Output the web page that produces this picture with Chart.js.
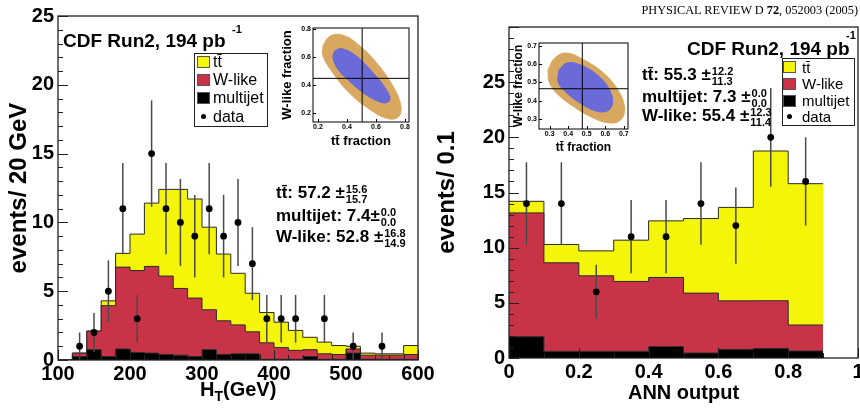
<!DOCTYPE html>
<html><head><meta charset="utf-8">
<script src="https://cdn.jsdelivr.net/npm/chart.js@4.4.0/dist/chart.umd.min.js"></script>
<style>
html,body{margin:0;padding:0;background:#fff;overflow:hidden;width:860px;height:412px;}
body{position:relative;font-family:'Liberation Sans',Arial,Helvetica,sans-serif;color:#000;}
.a{position:absolute;white-space:nowrap;line-height:1;}
.b{font-weight:bold;}
.pm{display:inline-block;vertical-align:-5px;font-size:11px;line-height:10px;margin-left:1px;text-align:left;}
.sw{position:absolute;width:13px;height:12px;border:1px solid #555;box-sizing:border-box;}
.dot{position:absolute;width:5px;height:5px;border-radius:50%;background:#000;}
canvas{display:block;}
</style>
</head><body>
<div class="a" style="left:0;top:0"><canvas id="cL" width="440" height="412"></canvas></div>
<div class="a" style="left:430px;top:0"><canvas id="cR" width="450" height="412"></canvas></div>
<div class="a" style="left:276px;top:21px"><canvas id="iL" width="140" height="132"></canvas></div>
<div class="a" style="left:505px;top:36px"><canvas id="iR" width="129" height="122"></canvas></div>

<div class="a" style="right:2px;top:4px;font-family:'Liberation Serif','Times New Roman',serif;font-size:12.3px;">PHYSICAL REVIEW D <b>72</b>, 052003 (2005)</div>

<!-- left panel texts -->
<div class="a b" style="left:63px;top:31px;font-size:19px;">CDF Run2, 194 pb</div>
<div class="a b" style="left:232px;top:24px;font-size:11px;">-1</div>
<div class="a" style="left:194px;top:53px;width:74px;height:74px;border:1px solid #222;box-sizing:border-box;"></div>
<div class="sw" style="left:197px;top:56px;background:#f5f50a"></div>
<div class="sw" style="left:197px;top:74px;background:#c93347"></div>
<div class="sw" style="left:197px;top:92px;background:#000"></div>
<div class="dot" style="left:201px;top:114px"></div>
<div class="a" style="left:213px;top:54px;font-size:16px;">tt&#772;</div>
<div class="a" style="left:213px;top:72px;font-size:16px;">W-like</div>
<div class="a" style="left:213px;top:90px;font-size:16px;">multijet</div>
<div class="a" style="left:213px;top:109px;font-size:16px;">data</div>
<div class="a b" style="left:276px;top:184px;font-size:17px;">tt&#772;: 57.2 &#177;<span class="pm">15.6<br>15.7</span></div>
<div class="a b" style="left:276px;top:207px;font-size:17px;">multijet: 7.4&#177;<span class="pm">0.0<br>0.0</span></div>
<div class="a b" style="left:276px;top:228px;font-size:17px;">W-like: 52.8 &#177;<span class="pm">16.8<br>14.9</span></div>
<div class="a b" style="left:200px;top:379px;font-size:20px;">H<span style="font-size:14px;position:relative;top:5px;">T</span>(GeV)</div>

<!-- right panel texts -->
<div class="a b" style="left:687px;top:39px;font-size:19px;">CDF Run2, 194 pb</div>
<div class="a b" style="left:846px;top:30px;font-size:11px;">-1</div>
<div class="a" style="left:782px;top:58px;width:73px;height:68px;border:1px solid #222;box-sizing:border-box;"></div>
<div class="sw" style="left:783px;top:61px;background:#f5f50a"></div>
<div class="sw" style="left:783px;top:78px;background:#c93347"></div>
<div class="sw" style="left:783px;top:95px;background:#000"></div>
<div class="dot" style="left:787px;top:114px"></div>
<div class="a" style="left:802px;top:60px;font-size:15px;">tt&#772;</div>
<div class="a" style="left:802px;top:76px;font-size:15px;">W-like</div>
<div class="a" style="left:802px;top:93px;font-size:15px;">multijet</div>
<div class="a" style="left:802px;top:109px;font-size:15px;">data</div>
<div class="a b" style="left:642px;top:66px;font-size:17px;">tt&#772;: 55.3 &#177;<span class="pm">12.2<br>11.3</span></div>
<div class="a b" style="left:642px;top:88px;font-size:17px;">multijet: 7.3 &#177;<span class="pm">0.0<br>0.0</span></div>
<div class="a b" style="left:642px;top:107px;font-size:17px;">W-like: 55.4 &#177;<span class="pm">12.3<br>11.4</span></div>

<script>
// ---------- data: left panel (H_T) ----------
const htEdges = [100,120,140,160,180,200,220,240,260,280,300,320,340,360,380,400,420,440,460,480,500,520,540,560,580,600];
const htMultijet = [0,0.25,0.75,0.25,0.8,0.55,0.5,0.4,0.35,0.25,0.75,0.4,0.45,0.45,0.05,0.05,0.05,0.25,0.05,0.05,0.5,0.05,0.05,0.05,0.05];
const htWlike = [0,0.25,1.35,3.7,5.95,5.95,6.3,5.7,4.85,4.25,2.9,2.45,2.1,1.6,1.2,0.85,0.65,0.5,0.4,0.35,0.3,0.3,0.3,0.3,0.35];
const htTtbar = [0,0,0,0.35,1.0,2.65,4.6,6.3,7.2,7.2,6.0,4.85,3.75,2.8,2.2,1.85,1.45,0.9,0.85,0.65,0.2,0.15,0.1,0.1,0.65];
const htDataX = [130,150,170,190,210,230,250,270,290,310,330,350,370,390,410,430,470,510,550];
const htDataY = [1,2,5,11,3,15,11,10,9,11,9,10,7,3,3,3,3,1,1];
const htDataErr = [1,1.41,2.24,3.32,1.73,3.87,3.32,3.16,3,3.32,3,3.16,2.65,1.73,1.73,1.73,1.73,1,1];

// ---------- data: right panel (ANN output) ----------
const annEdges = [0,0.1,0.2,0.3,0.4,0.5,0.6,0.7,0.8,0.9];
const annMultijet = [1.93,0.6,0.6,0.6,1.03,0.45,0.78,0.87,0.63];
const annWlike = [11.22,8.03,6.85,6.34,6.27,5.43,4.4,4.32,2.36];
const annTtbar = [1.05,1.66,2.26,3.74,5.13,6.76,8.47,13.57,12.81];
const annDataX = [0.05,0.15,0.25,0.35,0.45,0.55,0.65,0.75,0.85];
const annDataY = [14,14,6,11,11,14,12,20,16];
const annDataErr = [3.74,3.74,2.45,3.32,3.32,3.74,3.46,4.47,4];

// ---------- data: insets (contours of the fit, tt fraction vs W-like fraction) ----------
const insLOuter = [[0.235,0.679],[0.281,0.747],[0.373,0.756],[0.489,0.679],[0.604,0.558],[0.719,0.388],[0.772,0.25],[0.754,0.17],[0.68,0.16],[0.558,0.225],[0.419,0.340],[0.304,0.485],[0.235,0.606],[0.235,0.679]];
const insLInner = [[0.315,0.643],[0.362,0.66],[0.466,0.606],[0.581,0.485],[0.673,0.364],[0.696,0.292],[0.650,0.272],[0.535,0.328],[0.419,0.425],[0.339,0.51],[0.304,0.594],[0.315,0.643]];
const insLBest = [0.505, 0.447];
const insROuter = [[0.291,0.569],[0.327,0.633],[0.391,0.660],[0.482,0.624],[0.591,0.551],[0.673,0.451],[0.704,0.360],[0.685,0.296],[0.627,0.278],[0.536,0.305],[0.427,0.369],[0.336,0.442],[0.296,0.505],[0.291,0.569]];
const insRInner = [[0.351,0.569],[0.391,0.605],[0.464,0.596],[0.555,0.542],[0.618,0.469],[0.640,0.396],[0.618,0.347],[0.555,0.342],[0.464,0.387],[0.382,0.451],[0.345,0.505],[0.351,0.569]];
const insRBest = [0.476, 0.465];

const C_YEL = '#f5f50a', C_RED = '#c93347', C_BLK = '#000000', C_TAN = '#d8a860', C_BLUE = '#6a6ad8';
const FONT = "'Liberation Sans', Arial, Helvetica, sans-serif";

// ticks drawn inside frame + frame box
const inTicks = {
  id: 'inTicks',
  afterDatasetsDraw(chart, args, o) {
    if (!o || !o.x) return;
    const {ctx, chartArea: a} = chart;
    const xs = chart.scales.x, ys = chart.scales.y;
    ctx.save();
    ctx.strokeStyle = o.color || '#222';
    ctx.lineWidth = 1;
    const marks = (sc, spec, horiz) => {
      const k0 = Math.ceil(sc.min / spec.minor - 1e-6), k1 = Math.floor(sc.max / spec.minor + 1e-6);
      for (let k = k0; k <= k1; k++) {
        const v = k * spec.minor, r = v / spec.major;
        const L = Math.abs(r - Math.round(r)) < 1e-6 ? spec.len : spec.minorLen;
        const p = Math.round(sc.getPixelForValue(v)) + 0.5;
        ctx.beginPath();
        if (horiz) { ctx.moveTo(p, a.bottom); ctx.lineTo(p, a.bottom - L); }
        else { ctx.moveTo(a.left, p); ctx.lineTo(a.left + L, p); }
        ctx.stroke();
      }
    };
    marks(xs, o.x, true); marks(ys, o.y, false);
    ctx.lineWidth = o.frameWidth || 1.5;
    ctx.strokeStyle = o.frameColor || '#222';
    ctx.strokeRect(a.left, a.top, a.right - a.left, a.bottom - a.top);
    ctx.restore();
  }
};
// vertical error bars, drawn just before the data markers
const errBars = {
  id: 'errBars',
  beforeDatasetDraw(chart, args) {
    const ds = chart.data.datasets[args.index];
    if (!ds.errors) return;
    const {ctx, chartArea: a} = chart;
    const xs = chart.scales.x, ys = chart.scales.y;
    ctx.save();
    ctx.beginPath(); ctx.rect(a.left, a.top, a.right - a.left, a.bottom - a.top); ctx.clip();
    ctx.strokeStyle = ds.errColor; ctx.lineWidth = ds.errWidth;
    ds.data.forEach((p, i) => {
      const e = ds.errors[i];
      const x = xs.getPixelForValue(p.x);
      ctx.beginPath();
      ctx.moveTo(x, ys.getPixelForValue(p.y - e));
      ctx.lineTo(x, ys.getPixelForValue(p.y + e));
      ctx.stroke();
    });
    ctx.restore();
  }
};

function histDs(label, edges, vals, color, fill) {
  return {
    label, type: 'line', stack: 'hist', order: 1,
    data: edges.map((e, i) => ({x: e, y: vals[Math.min(i, vals.length - 1)]})),
    stepped: 'before', fill, backgroundColor: color, borderColor: '#2a2a2a', borderWidth: 1,
    pointRadius: 0, tension: 0
  };
}

const NOGRID = {display: false, drawTicks: false};
const fmt = v => String(Math.round(v * 100) / 100);

function mainChart(id, c) {
  const tickFont = {family: FONT, size: 20, weight: 'bold'};
  return new Chart(document.getElementById(id), {
    type: 'line',
    data: {datasets: [
      histDs('multijet', c.edges, c.multijet, C_BLK, 'origin'),
      histDs('W-like', c.edges, c.wlike, C_RED, '-1'),
      histDs('tt', c.edges, c.ttbar, C_YEL, '-1'),
      {label: 'data', type: 'line', stack: 'pts', order: 0, showLine: false,
       data: c.dataX.map((x, i) => ({x, y: c.dataY[i]})), errors: c.dataErr,
       errColor: '#4a4a4a', errWidth: 1.5,
       pointRadius: 3.4, pointBackgroundColor: '#000', pointBorderWidth: 0, pointStyle: 'circle'}
    ]},
    options: {
      responsive: false, animation: false, events: [],
      layout: {padding: c.pad},
      plugins: {legend: {display: false}, tooltip: {enabled: false},
        inTicks: {x: c.xt, y: c.yt, color: '#222', frameWidth: 1.3}},
      scales: {
        x: {type: 'linear', min: c.xmin, max: c.xmax, grid: NOGRID, border: {display: false},
            ticks: {stepSize: c.xstep, includeBounds: false, autoSkip: false, maxRotation: 0, font: tickFont, color: '#000', padding: 2, callback: fmt},
            title: c.xtitle ? {display: true, text: c.xtitle, font: {family: FONT, size: 20, weight: 'bold'}, color: '#000', padding: {top: 0, bottom: 7}} : {display: false},
            afterFit(s) { s.height = c.xh; }},
        y: {stacked: true, min: 0, max: c.ymax, grid: NOGRID, border: {display: false},
            ticks: {stepSize: 5, includeBounds: false, font: tickFont, color: '#000', padding: 4,
                    callback: v => (v <= 25 ? String(v) : '')},
            title: {display: true, text: c.ytitle, font: {family: FONT, size: 24, weight: 'bold'}, color: '#000', padding: {top: c.ytpad, bottom: 0}},
            afterFit(s) { s.width = c.yw; }}
      }
    },
    plugins: [inTicks, errBars]
  });
}

mainChart('cL', {edges: htEdges, multijet: htMultijet, wlike: htWlike, ttbar: htTtbar,
  dataX: htDataX, dataY: htDataY, dataErr: htDataErr,
  pad: {left: 0, top: 16, right: 22, bottom: 0}, xmin: 100, xmax: 600, xstep: 100, ymax: 25,
  xt: {major: 100, minor: 20, len: 10, minorLen: 5}, yt: {major: 5, minor: 1, len: 10, minorLen: 5},
  xh: 52, yw: 58, ytitle: 'events/ 20 GeV', ytpad: 5, xtitle: null});

mainChart('cR', {edges: annEdges, multijet: annMultijet, wlike: annWlike, ttbar: annTtbar,
  dataX: annDataX, dataY: annDataY, dataErr: annDataErr,
  pad: {left: 0, top: 27, right: 22, bottom: 0}, xmin: 0, xmax: 1, xstep: 0.2, ymax: 30,
  xt: {major: 0.2, minor: 0.1, len: 10, minorLen: 5}, yt: {major: 5, minor: 1, len: 10, minorLen: 5},
  xh: 54, yw: 79, ytitle: 'events/ 0.1', ytpad: 3, xtitle: 'ANN output'});

function insetChart(id, c) {
  const tf = {family: FONT, size: 7, weight: 'bold'};
  const pts = arr => arr.map(p => ({x: p[0], y: p[1]}));
  return new Chart(document.getElementById(id), {
    type: 'scatter',
    data: {datasets: [
      {data: pts(c.outer), showLine: true, fill: 'shape', backgroundColor: C_TAN, borderColor: C_TAN, borderWidth: 1, pointRadius: 0, tension: 0.4, order: 3},
      {data: pts(c.inner), showLine: true, fill: 'shape', backgroundColor: C_BLUE, borderColor: C_BLUE, borderWidth: 1, pointRadius: 0, tension: 0.4, order: 2},
      {data: [{x: c.best[0], y: c.ymin}, {x: c.best[0], y: c.ymax}], showLine: true, fill: false, borderColor: '#000', borderWidth: 1, pointRadius: 0, order: 1},
      {data: [{x: c.xmin, y: c.best[1]}, {x: c.xmax, y: c.best[1]}], showLine: true, fill: false, borderColor: '#000', borderWidth: 1, pointRadius: 0, order: 1}
    ]},
    options: {
      responsive: false, animation: false, events: [],
      layout: {padding: c.pad},
      plugins: {legend: {display: false}, tooltip: {enabled: false},
        inTicks: {x: {major: c.step, minor: c.step, len: 3, minorLen: 3}, y: {major: c.step, minor: c.step, len: 3, minorLen: 3}, color: '#000', frameWidth: 1, frameColor: '#000'}},
      scales: {
        x: {type: 'linear', min: c.xmin, max: c.xmax, grid: NOGRID, border: {display: false},
            ticks: {stepSize: c.step, includeBounds: false, autoSkip: false, maxRotation: 0, font: tf, color: '#000', padding: 1, callback: fmt},
            title: {display: true, text: 'tt\u0304 fraction', font: {family: FONT, size: c.tsize, weight: 'bold'}, color: '#000', padding: {top: 0, bottom: c.xtpad}},
            afterFit(s) { s.height = c.xh; }},
        y: {type: 'linear', min: c.ymin, max: c.ymax, grid: NOGRID, border: {display: false},
            ticks: {stepSize: c.step, includeBounds: false, autoSkip: false, font: tf, color: '#000', padding: 2, callback: fmt},
            title: {display: true, text: 'W-like fraction', font: {family: FONT, size: c.tsize, weight: 'bold'}, color: '#000', padding: {top: c.ytpad, bottom: 0}},
            afterFit(s) { s.width = c.yw; }}
      }
    },
    plugins: [inTicks]
  });
}

insetChart('iL', {outer: insLOuter, inner: insLInner, best: insLBest,
  xmin: 0.166, xmax: 0.828, ymin: 0.135, ymax: 0.807, step: 0.2,
  pad: {left: 0, top: 7, right: 7, bottom: 0}, xh: 31, yw: 37, tsize: 13, xtpad: 3.5, ytpad: 4});
insetChart('iR', {outer: insROuter, inner: insRInner, best: insRBest,
  xmin: 0.242, xmax: 0.723, ymin: 0.245, ymax: 0.715, step: 0.1,
  pad: {left: 0, top: 7, right: 6, bottom: 0}, xh: 29, yw: 34, tsize: 12, xtpad: 3.5, ytpad: 6});
</script>
</body></html>
